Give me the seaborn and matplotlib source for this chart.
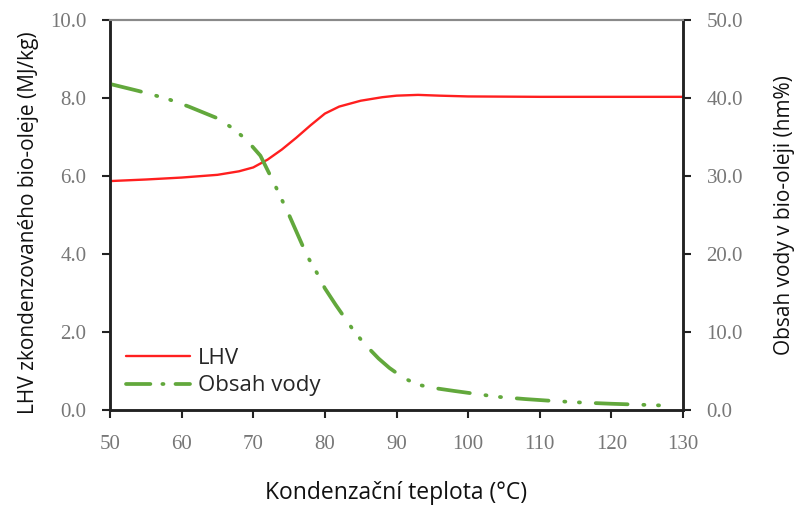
import matplotlib
matplotlib.use("Agg")
import matplotlib.pyplot as plt
import seaborn as sns
import pandas as pd
from matplotlib.lines import Line2D

# --- data ---
lhv_temp = [50, 55, 60, 65, 68, 70, 72, 74, 76, 78, 80, 82, 85, 88, 90, 93, 96, 100, 110, 120, 130]
lhv_vals = [5.87, 5.91, 5.96, 6.03, 6.12, 6.22, 6.42, 6.68, 6.98, 7.30, 7.60, 7.78, 7.93, 8.02, 8.06, 8.08, 8.06, 8.04, 8.03, 8.03, 8.03]

water_temp = [50, 54, 58, 61, 65, 67, 69, 71, 73, 75, 77.5, 79, 80, 81.5, 84, 85.5, 87.5, 89, 91, 93, 95, 98,
              100, 104, 108, 112, 116, 120, 124, 128]
water_vals = [41.8, 40.9, 39.9, 38.9, 37.4, 36.2, 34.7, 32.6, 28.9, 25.0, 19.8, 17.4, 15.6, 13.5, 10.2, 8.5, 6.6,
              5.4, 4.1, 3.25, 2.85, 2.45, 2.2, 1.7, 1.4, 1.15, 0.95, 0.8, 0.68, 0.55]

x_ticks = [50, 60, 70, 80, 90, 100, 110, 120, 130]
left_ticks = [0, 2, 4, 6, 8, 10]
right_ticks = [0, 10, 20, 30, 40, 50]

label_lhv = "LHV"
label_water = "Obsah vody"
xlabel = "Kondenzační teplota (°C)"
ylabel_left = "LHV zkondenzovaného bio-oleje (MJ/kg)"
ylabel_right = "Obsah vody v bio-oleji (hm%)"

sns.set_style("white")
plt.rcParams['font.family'] = ['Open Sans', 'DejaVu Sans']

RED = "#ff1f1f"
GREEN = "#62a83c"
TICKCOL = "#777777"
SPINE = "#222222"
W_LW = 2.7
W_DASH = (8.5, 4.2, 0.3, 3.6, 0.3, 4.2)

fig = plt.figure(figsize=(8.01, 5.05), dpi=100)
ax = fig.add_axes([110/801, 1 - 410/505, (683-110)/801, (410-20)/505])
ax2 = ax.twinx()

df_lhv = pd.DataFrame({"t": lhv_temp, "v": lhv_vals})
df_w = pd.DataFrame({"t": water_temp, "v": water_vals})

sns.lineplot(data=df_lhv, x="t", y="v", ax=ax, color=RED, linewidth=1.7)
sns.lineplot(data=df_w, x="t", y="v", ax=ax2, color=GREEN, linewidth=W_LW)
wline = ax2.lines[-1]
wline.set_dashes(W_DASH)
wline.set_dash_capstyle("round")

ax.set_xlim(50, 130)
ax.set_ylim(0, 10)
ax2.set_ylim(0, 50)
ax.set_xticks(x_ticks)
ax.set_yticks(left_ticks)
ax2.set_yticks(right_ticks)
ax.set_xticklabels([str(v) for v in x_ticks])
ax.set_yticklabels([f"{v:.1f}" for v in left_ticks])
ax2.set_yticklabels([f"{v:.1f}" for v in right_ticks])

serif = ['Liberation Serif', 'DejaVu Serif']
for a in (ax, ax2):
    for lbl in a.get_xticklabels() + a.get_yticklabels():
        lbl.set_family(serif)
        lbl.set_fontsize(15)
        lbl.set_color(TICKCOL)

ax.tick_params(axis='x', direction='out', length=6, width=1.5, color=SPINE, pad=12, bottom=True)
ax.tick_params(axis='y', direction='out', length=6, width=1.5, color=SPINE, pad=11, left=True)
ax2.tick_params(axis='y', direction='out', length=6, width=1.5, color=SPINE, pad=11, right=True)

for a in (ax, ax2):
    for side, sp in a.spines.items():
        sp.set_visible(True)
        sp.set_color(SPINE)
        sp.set_linewidth(1.8)
    a.spines['top'].set_color("#8a8a8a")
    a.spines['top'].set_linewidth(1.5)

ax.set_xlabel(xlabel, fontsize=16.5, color="#111111")
ax.set_ylabel(ylabel_left, fontsize=15, color="#111111")
ax2.set_ylabel(ylabel_right, fontsize=15, color="#111111")
ax.xaxis.set_label_coords(0.5, (410 - 481) / 390)
ax.yaxis.set_label_coords((39 - 110) / 573, 0.48)
ax2.yaxis.set_label_coords((774 - 110) / 573, 0.5)
ax.grid(False)
ax2.grid(False)

handles = [Line2D([], [], color=RED, linewidth=1.7),
           Line2D([], [], color=GREEN, linewidth=W_LW, dashes=(6.5, 3.2, 0.3, 3.2), dash_capstyle="round")]
ax2.legend(handles, [label_lhv, label_water], loc='lower left', bbox_to_anchor=(0.012, 0.012),
           borderaxespad=0, frameon=False, fontsize=16, handlelength=2.9, handletextpad=0.35,
           labelspacing=0.3)

fig.savefig("out.png", dpi=100)
